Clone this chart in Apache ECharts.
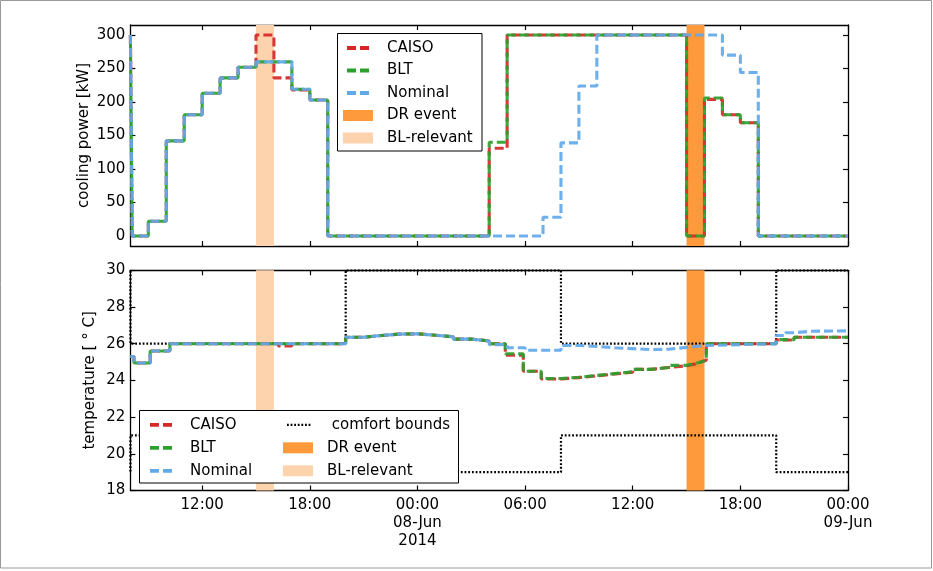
<!DOCTYPE html>
<html>
<head>
<meta charset="utf-8">
<script src="https://cdn.jsdelivr.net/npm/echarts@6/dist/echarts.min.js"></script>
<style>html,body{margin:0;padding:0;background:#fff}#c{width:933px;height:571px}</style>
</head>
<body>
<div id="c"></div>
<script>
// time in hours from 07-Jun-2014 00:00
const xTickValues = [12, 18, 24, 30, 36, 42, 48];
const powerTickValues = [0, 50, 100, 150, 200, 250, 300];

// cooling power [kW] as [hour, value] steps
const caisoPower = [[8,300],[8.1,0],[9,22],[10,142],[11,181],[12,213],[13,236],[14,252],[15,300],[16,236],[17,218],[18,203],[19,0],[28,131],[29,300],[39,0],[40,204],[41,181],[42,169],[43,0],[48,0]];
const bltPower = [[8,300],[8.1,0],[9,22],[10,142],[11,181],[12,213],[13,236],[14,252],[15,260],[17,219],[18,203],[19,0],[28,140],[29,300],[39,0],[40,206],[41,181],[42,169],[43,0],[48,0]];
const nominalPower = [[8,300],[8.1,0],[9,22],[10,142],[11,181],[12,213],[13,236],[14,252],[15,260],[17,219],[18,203],[19,0],[31,28],[32,139],[33,224],[34,300],[41,270],[42,244],[43,0],[48,0]];

// temperature [°C]
const caisoTemp = [[8,25.3],[8.2,24.95],[9.1,25.6],[10.2,26.0],[16.25,25.88],[17,26.0],[20,26.35],[21,26.45],[22,26.52],[23,26.54],[24,26.46],[25,26.38],[26,26.25],[27,26.15],[28,26.0],[28.9,25.38],[29.9,24.5],[30.9,24.08],[32,24.15],[33,24.25],[34,24.35],[35,24.45],[36,24.6],[37,24.7],[38,24.8],[39,24.9],[39.5,25.0],[39.8,25.1],[40.1,26.0],[44,26.2],[45,26.35],[48,26.35]];
const bltTemp = [[8,25.3],[8.2,24.95],[9.1,25.6],[10.2,26.0],[20,26.35],[21,26.45],[22,26.52],[23,26.54],[24,26.46],[25,26.38],[26,26.25],[27,26.15],[28,26.0],[28.9,25.45],[29.9,24.5],[30.9,24.1],[32,24.17],[33,24.27],[34,24.37],[35,24.47],[36,24.6],[37,24.7],[38,24.82],[39,24.92],[39.5,25.0],[39.8,25.1],[40.1,26.0],[44,26.22],[45,26.35],[48,26.35]];
const nominalTemp = [[8,25.3],[8.2,24.95],[9.1,25.6],[10.2,26.0],[20,26.35],[21,26.45],[22,26.52],[23,26.54],[24,26.46],[25,26.38],[26,26.25],[27,26.15],[28,25.95],[29,25.78],[30,25.64],[32,25.9],[33,25.85],[34,25.78],[35,25.68],[37,25.7],[38,25.8],[39,25.9],[40,26.0],[44,26.45],[44.5,26.6],[45,26.68],[46,26.7],[48,26.68]];
const comfortUpper = [[7,30],[8,26],[20,30],[32,26],[44,30],[48,30]];
const comfortLower = [[7,19],[8,21],[20,19],[32,21],[44,19],[48,19]];

// event windows [start, end] in hours
const drEvent = [39, 40];
const blRelevant = [15, 16];

const FONT = 'DejaVu Sans';
const C_RED = '#d62728', C_GREEN = '#2ca02c', C_BLUE = '#62a9e9';
const C_DR = '#fe9a3c', C_BL = '#fdd3ad';

const dashIcon = 'path://M0,0M39,11M4,3.6H13V7.4H4ZM17,3.6H26V7.4H17Z';
let dots = 'path://M0,0M39,11';
for (let i = 0; i < 7; i++) { const x = 4 + i * 3.6; dots += 'M' + x + ',4.5H' + (x + 1.8) + 'V6.7H' + x + 'Z'; }
const dotIcon = dots;
const patchIcon = 'path://M0,0M39,11M0,0H30V11H0Z';

function fmtX(v) {
  const h = ((v % 24) + 24) % 24;
  let s = (h < 10 ? '0' : '') + h + ':00';
  if (v === 24) s += '\n08-Jun\n2014';
  if (v === 48) s += '\n09-Jun';
  return s;
}
function mkX(g, pos, labels) {
  return {
    type: 'value', gridIndex: g, position: pos, min: 8, max: 48,
    axisLine: { show: true, onZero: false, lineStyle: { color: '#000', width: 1.3 } },
    axisTick: { show: true, inside: true, length: 5, customValues: xTickValues, lineStyle: { color: '#000', width: 1.2 } },
    axisLabel: { show: labels, customValues: xTickValues, formatter: fmtX, margin: 6, fontSize: 15, lineHeight: 18, color: '#000', fontFamily: FONT },
    splitLine: { show: false }
  };
}
function mkY(g, pos, cfg) {
  return Object.assign({
    type: 'value', gridIndex: g, position: pos,
    axisLine: { show: true, onZero: false, lineStyle: { color: '#000', width: 1.3 } },
    axisTick: { show: true, inside: true, length: 5, lineStyle: { color: '#000', width: 1.2 } },
    axisLabel: { show: pos === 'left', margin: 5, fontSize: 15, color: '#000', fontFamily: FONT },
    splitLine: { show: false }
  }, cfg);
}
const lineBase = (name, data, color, xi, yi, off) => ({
  name, type: 'line', data, xAxisIndex: xi, yAxisIndex: yi, step: 'end',
  symbol: 'none', showSymbol: false, silent: true, z: 3,
  itemStyle: { color },
  lineStyle: { color, width: 3.1, type: [9, 4], dashOffset: off, cap: 'butt', opacity: 0.92 }
});
const band = (name, range, color, xi, yi) => ({
  name, type: 'line', data: [], xAxisIndex: xi, yAxisIndex: yi, z: 1, silent: true,
  itemStyle: { color },
  markArea: { silent: true, itemStyle: { color, opacity: 1 }, data: [[{ xAxis: range[0] }, { xAxis: range[1] }]] }
});
const boundLine = (data) => ({
  name: 'comfort bounds', type: 'line', data, xAxisIndex: 2, yAxisIndex: 2, step: 'end',
  symbol: 'none', showSymbol: false, silent: true, z: 2,
  itemStyle: { color: '#000' },
  lineStyle: { color: '#000', width: 2.2, type: [1.8, 1.9], cap: 'butt' }
});

const legendText = { fontSize: 15, color: '#000', fontFamily: FONT };
const option = {
  animation: false,
  backgroundColor: '#fff',
  grid: [
    { left: 130.4, top: 25, width: 717.6, height: 221 },
    { left: 130.4, top: 270.3, width: 717.6, height: 220.2 }
  ],
  xAxis: [mkX(0, 'bottom', false), mkX(0, 'top', false), mkX(1, 'bottom', true), mkX(1, 'top', false)],
  yAxis: [
    mkY(0, 'left', { min: -15, max: 315, name: 'cooling power [kW]', nameLocation: 'middle', nameGap: 39, nameMoveOverlap: false,
      nameTextStyle: { fontSize: 15, color: '#000', fontFamily: FONT },
      axisTick: { show: true, inside: true, length: 5, customValues: powerTickValues, lineStyle: { color: '#000', width: 1.2 } },
      axisLabel: { show: true, customValues: powerTickValues, margin: 5, fontSize: 15, color: '#000', fontFamily: FONT } }),
    mkY(0, 'right', { min: -15, max: 315,
      axisTick: { show: true, inside: true, length: 5, customValues: powerTickValues, lineStyle: { color: '#000', width: 1.2 } } }),
    mkY(1, 'left', { min: 18, max: 30, interval: 2, name: 'temperature [ ° C]', nameLocation: 'middle', nameGap: 33, nameMoveOverlap: false,
      nameTextStyle: { fontSize: 15, color: '#000', fontFamily: FONT } }),
    mkY(1, 'right', { min: 18, max: 30, interval: 2 })
  ],
  legend: [
    { orient: 'vertical', left: 343, top: 40.5, padding: 0, itemGap: 7.5, itemWidth: 39, itemHeight: 11,
      selectedMode: false, z: 20, textStyle: legendText, itemStyle: { borderWidth: 0 },
      data: [{ name: 'CAISO', icon: dashIcon }, { name: 'BLT', icon: dashIcon }, { name: 'Nominal', icon: dashIcon },
             { name: 'DR event', icon: patchIcon }, { name: 'BL-relevant', icon: patchIcon }] },
    { orient: 'vertical', left: 146, top: 417.3, padding: 0, itemGap: 8, itemWidth: 39, itemHeight: 11,
      selectedMode: false, z: 20, textStyle: legendText, itemStyle: { borderWidth: 0 },
      data: [{ name: 'CAISO', icon: dashIcon }, { name: 'BLT', icon: dashIcon }, { name: 'Nominal', icon: dashIcon }] },
    { orient: 'vertical', left: 283, top: 417.3, padding: 0, itemGap: 8, itemWidth: 39, itemHeight: 11,
      selectedMode: false, z: 20, textStyle: legendText, itemStyle: { borderWidth: 0 },
      formatter: n => n === 'comfort bounds' ? ' ' + n : n,
      data: [{ name: 'comfort bounds', icon: dotIcon }, { name: 'DR event', icon: patchIcon }, { name: 'BL-relevant', icon: patchIcon }] }
  ],
  graphic: [
    { type: 'rect', z: 0, silent: true, shape: { x: 0.5, y: 0.5, width: 931, height: 567.5 }, style: { fill: null, stroke: '#999', lineWidth: 1 } },
    { type: 'rect', z: 10, silent: true, shape: { x: 337.5, y: 33.5, width: 144.5, height: 117.5 }, style: { fill: '#fff', stroke: '#000', lineWidth: 1 } },
    { type: 'rect', z: 10, silent: true, shape: { x: 139.5, y: 410.5, width: 319, height: 72.5 }, style: { fill: '#fff', stroke: '#000', lineWidth: 1 } }
  ],
  series: [
    band('BL-relevant', blRelevant, C_BL, 0, 0),
    band('DR event', drEvent, C_DR, 0, 0),
    band('BL-relevant', blRelevant, C_BL, 2, 2),
    band('DR event', drEvent, C_DR, 2, 2),
    lineBase('CAISO', caisoPower, C_RED, 0, 0, 0),
    lineBase('BLT', bltPower, C_GREEN, 0, 0, 6.5),
    lineBase('Nominal', nominalPower, C_BLUE, 0, 0, 0),
    boundLine(comfortUpper),
    boundLine(comfortLower),
    lineBase('CAISO', caisoTemp, C_RED, 2, 2, 0),
    lineBase('BLT', bltTemp, C_GREEN, 2, 2, 6.5),
    lineBase('Nominal', nominalTemp, C_BLUE, 2, 2, 0)
  ]
};
const chart = echarts.init(document.getElementById('c'), null, { renderer: 'canvas' });
chart.setOption(option);
</script>
</body>
</html>
